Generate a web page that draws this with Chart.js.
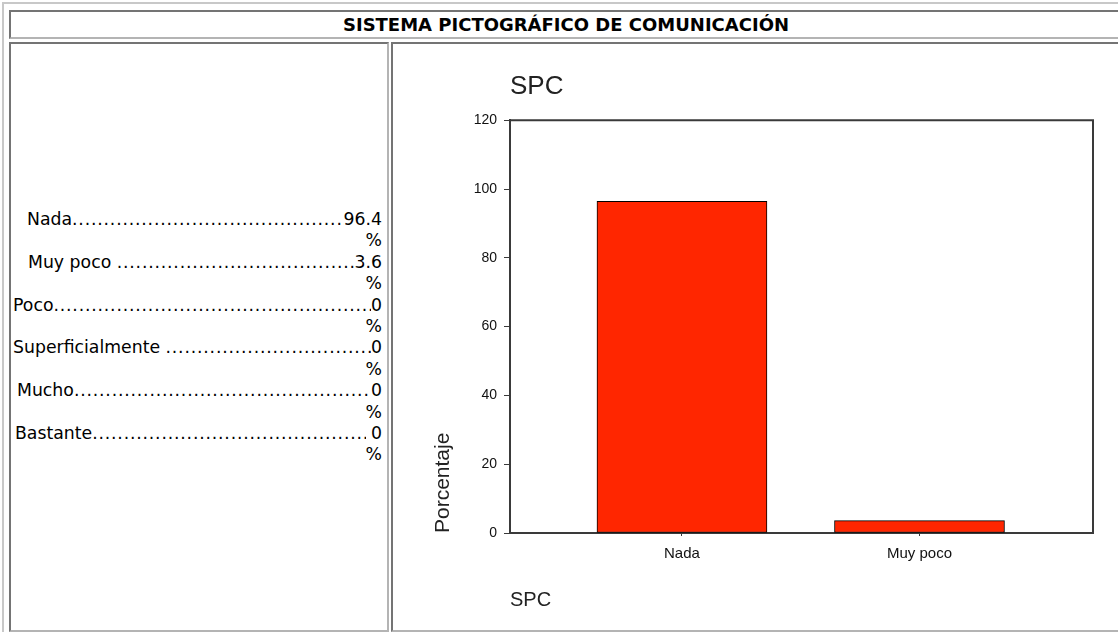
<!DOCTYPE html>
<html>
<head>
<meta charset="utf-8">
<script src="https://cdn.jsdelivr.net/npm/chart.js@4"></script>
<style>
    body { margin: 0; background: #fff; font-family: "DejaVu Sans", Verdana, sans-serif; overflow: hidden; }
    .box { position: absolute; box-sizing: border-box; border-style: solid; }
    #outer { left: 2px; top: 2px; width: 1140px; height: 650px; border-width: 2px; border-color: #c8c8c8 #707070 #707070 #c8c8c8; }
    .cell { border-width: 2px; border-color: #747474 #b4b4b4 #b4b4b4 #747474; }
    #titleCell { left: 9px; top: 10px; width: 1114px; height: 29px; text-align: center; font-weight: bold; font-size: 18px; line-height: 25px; color: #000; }
    #leftCell { left: 9px; top: 42px; width: 380px; height: 590px; }
    #rightCell { left: 391px; top: 42px; width: 732px; height: 590px; }
    #list { position: absolute; left: 10px; top: 209px; width: 372px; font-size: 17.3px; line-height: 21.4px; color: #000; }
    .row { display: flex; white-space: pre; }
    .dots { flex: 1; overflow: hidden; letter-spacing: 0.8px; }
    .pct { text-align: right; }
    #chartCanvas { position: absolute; left: 393px; top: 44px; }
</style>
</head>
<body>
<div id="outer" class="box"></div>
<div id="titleCell" class="box cell">SISTEMA PICTOGRÁFICO DE COMUNICACIÓN</div>
<div id="leftCell" class="box cell"></div>
<div id="rightCell" class="box cell"></div>
<div id="list"></div>
<canvas id="chartCanvas" width="725" height="585"></canvas>

<script>
// Data
const categories = ['Nada', 'Muy poco', 'Poco', 'Superficialmente', 'Mucho', 'Bastante'];
const percentages = [96.4, 3.6, 0, 0, 0, 0];
const chartTitle = 'SPC';
const xAxisTitle = 'SPC';
const yAxisTitle = 'Porcentaje';
const yMin = 0;
const yMax = 120;
const yStep = 20;

// Left-hand list (label ... value %)
const indents = [17, 18, 3, 3, 7, 5];
const gapBefore = ['', ' ', '', ' ', '', ''];
const gapAfter = ['', '', '', '', '', ' '];
const list = document.getElementById('list');
categories.forEach((cat, i) => {
    const row = document.createElement('div');
    row.className = 'row';
    row.style.paddingLeft = indents[i] + 'px';
    const label = document.createElement('span');
    label.textContent = cat + gapBefore[i];
    const dots = document.createElement('span');
    dots.className = 'dots';
    dots.textContent = '.'.repeat(80);
    const val = document.createElement('span');
    val.textContent = gapAfter[i] + percentages[i];
    row.append(label, dots, val);
    const pct = document.createElement('div');
    pct.className = 'pct';
    pct.textContent = '%';
    list.append(row, pct);
});

// Only categories with a value are plotted
const chartLabels = categories.filter((c, i) => percentages[i] > 0);
const chartValues = percentages.filter(v => v > 0);

const axisColor = '#3a3a3a';
const textColor = '#111';

// Frame line on top and right of the plot area
const framePlugin = {
    id: 'frame',
    afterDraw(chart) {
        const { ctx, chartArea } = chart;
        ctx.save();
        ctx.strokeStyle = axisColor;
        ctx.lineWidth = 2;
        ctx.beginPath();
        ctx.moveTo(chartArea.left, chartArea.top);
        ctx.lineTo(chartArea.right, chartArea.top);
        ctx.lineTo(chartArea.right, chartArea.bottom);
        ctx.stroke();
        ctx.restore();
    }
};

Chart.defaults.font.family = '"Liberation Sans", Arial, sans-serif';
Chart.defaults.color = textColor;

const chart = new Chart(document.getElementById('chartCanvas').getContext('2d'), {
    type: 'bar',
    data: {
        datasets: [{
            label: yAxisTitle,
            data: chartValues.map((v, i) => ({ x: i, y: v })),
            backgroundColor: 'rgb(255, 38, 0)',
            borderColor: '#000',
            borderWidth: 1,
            borderSkipped: false,
            barThickness: 170
        }]
    },
    options: {
        responsive: false,
        devicePixelRatio: 1,
        animation: false,
        layout: { padding: { left: 0, right: 25, top: 0, bottom: 0 } },
        plugins: {
            legend: { display: false },
            tooltip: { enabled: false },
            title: {
                display: true,
                text: chartTitle,
                align: 'start',
                fullSize: false,
                color: '#222',
                font: { size: 26, weight: 'normal' },
                padding: { top: 27, bottom: 18 }
            }
        },
        scales: {
            x: {
                type: 'linear',
                offset: false,
                min: -0.724,
                max: 1.7305,
                afterBuildTicks: scale => {
                    scale.ticks = chartLabels.map((c, i) => ({ value: i }));
                },
                afterFit: scale => { scale.height = 96; },
                ticks: {
                    autoSkip: false,
                    maxRotation: 0,
                    padding: 9,
                    font: { size: 15 },
                    callback: value => chartLabels[value] ?? ''
                },
                grid: { display: true, offset: false, drawOnChartArea: false, tickLength: 3, color: axisColor },
                border: { display: true, color: axisColor, width: 2 },
                title: {
                    display: true,
                    text: xAxisTitle,
                    align: 'start',
                    color: '#222',
                    font: { size: 20 },
                    padding: { top: 0, bottom: 17 }
                }
            },
            y: {
                min: yMin,
                max: yMax,
                afterFit: scale => { scale.width = 117; },
                ticks: {
                    stepSize: yStep,
                    padding: 7,
                    font: { size: 14 }
                },
                grid: { display: true, drawOnChartArea: false, tickLength: 6, color: axisColor },
                border: { display: true, color: axisColor, width: 2 },
                title: {
                    display: true,
                    text: yAxisTitle,
                    align: 'start',
                    color: '#222',
                    font: { size: 21 },
                    padding: { top: 38, bottom: 0 }
                }
            }
        }
    },
    plugins: [framePlugin]
});
</script>
</body>
</html>
